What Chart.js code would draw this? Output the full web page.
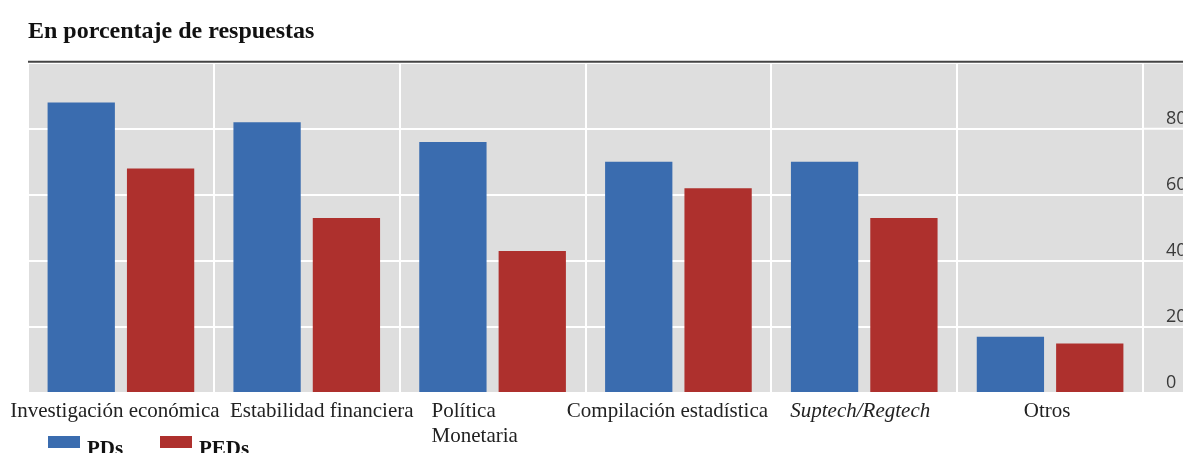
<!DOCTYPE html>
<html>
<head>
<meta charset="utf-8">
<script src="https://cdn.jsdelivr.net/npm/chart.js@4"></script>
<style>
  body { margin: 0; background: #fff; overflow: hidden; }
  #wrap { position: relative; width: 1183px; height: 453px; overflow: hidden; }
  .lg-box { position: absolute; top: 436px; width: 32px; height: 12px; }
  .lg-text { position: absolute; top: 436px; font: bold 21px "Liberation Serif", serif; color: #111; line-height: 24px; white-space: nowrap; }
</style>
</head>
<body>
<div id="wrap">
  <canvas id="chart"></canvas>
  <div id="legend"></div>
</div>
<script>
const categories = [
  "Investigación económica",
  "Estabilidad financiera",
  ["Política", "Monetaria"],
  "Compilación estadística",
  "Suptech/Regtech",
  "Otros"
];
const pds = [88, 82, 76, 70, 70, 17];
const peds = [68, 53, 43, 62, 53, 15];
const yTicks = [0, 20, 40, 60, 80, 100];
const seriesNames = ["PDs", "PEDs"];

const blue = "#3a6caf";
const red = "#ae302d";
const grey = "#dedede";

// small nudges so the category labels sit like the original
const labelShift = [-6, 15, -61, -11, -4, -3];
const labelAlign = ["center", "center", "left", "center", "center", "center"];

// legend as html text
const legend = document.getElementById("legend");
const lgPos = [[48, 87], [160, 199]];
const lgColors = [blue, red];
seriesNames.forEach((name, i) => {
  legend.innerHTML +=
    '<div class="lg-box" style="left:' + lgPos[i][0] + "px;background:" + lgColors[i] + '"></div>' +
    '<div class="lg-text" style="left:' + lgPos[i][1] + 'px">' + name + "</div>";
});

const backdrop = {
  id: "backdrop",
  beforeDraw(chart) {
    const ctx = chart.ctx;
    const area = chart.chartArea;
    ctx.save();
    ctx.fillStyle = grey;
    ctx.fillRect(area.left, area.top, chart.width - area.left, area.bottom - area.top);
    // horizontal grid carried on into the axis zone
    const y = chart.scales.y;
    ctx.strokeStyle = "#ffffff";
    ctx.lineWidth = 2;
    y.ticks.forEach((t) => {
      const py = y.getPixelForValue(t.value);
      ctx.beginPath();
      ctx.moveTo(area.right, py);
      ctx.lineTo(chart.width, py);
      ctx.stroke();
    });
    ctx.restore();
  },
  afterDraw(chart) {
    const ctx = chart.ctx;
    const area = chart.chartArea;
    const x = chart.scales.x;
    ctx.save();
    ctx.strokeStyle = "#444";
    ctx.lineWidth = 2;
    ctx.beginPath();
    ctx.moveTo(area.left, area.top - 1);
    ctx.lineTo(chart.width, area.top - 1);
    ctx.stroke();

    ctx.fillStyle = "#222";
    ctx.textBaseline = "middle";
    categories.forEach((lab, i) => {
      const lines = Array.isArray(lab) ? lab : [lab];
      ctx.font = (i === 4 ? "italic " : "") + "21px 'Liberation Serif', serif";
      ctx.textAlign = labelAlign[i];
      const px = x.getPixelForValue(i) + labelShift[i];
      lines.forEach((ln, j) => {
        ctx.fillText(ln, px, area.bottom + 18 + j * 25);
      });
    });
    ctx.restore();
  }
};

new Chart(document.getElementById("chart"), {
  type: "bar",
  data: {
    labels: categories,
    datasets: [
      { label: seriesNames[0], data: pds, backgroundColor: blue },
      { label: seriesNames[1], data: peds, backgroundColor: red }
    ]
  },
  options: {
    responsive: true,
    maintainAspectRatio: false,
    animation: false,
    categoryPercentage: 0.854,
    barPercentage: 0.848,
    layout: { padding: { left: 28, right: 0, top: 0, bottom: 0 } },
    plugins: {
      legend: { display: false },
      tooltip: { enabled: false },
      title: {
        display: true,
        text: "En porcentaje de respuestas",
        align: "start",
        color: "#111",
        font: { family: "Liberation Serif", size: 24, weight: "bold", lineHeight: 1.2 },
        padding: { top: 17, bottom: 17 }
      }
    },
    scales: {
      x: {
        border: { display: false },
        grid: { color: "#ffffff", lineWidth: 2, drawTicks: false },
        ticks: { display: false },
        afterFit(scale) { scale.height = 60; }
      },
      y: {
        position: "right",
        min: 0,
        max: 100,
        border: { display: false },
        grid: { color: "#ffffff", lineWidth: 2, drawTicks: false },
        afterBuildTicks(scale) { scale.ticks = yTicks.map((v) => ({ value: v })); },
        ticks: {
          padding: 23,
          labelOffset: -10,
          color: "#3a3a3a",
          font: { family: "Open Sans", size: 18 },
          callback: (v) => (v === 100 ? "" : v)
        },
        afterFit(scale) { scale.width = 40; }
      }
    }
  },
  plugins: [backdrop]
});
</script>
</body>
</html>
